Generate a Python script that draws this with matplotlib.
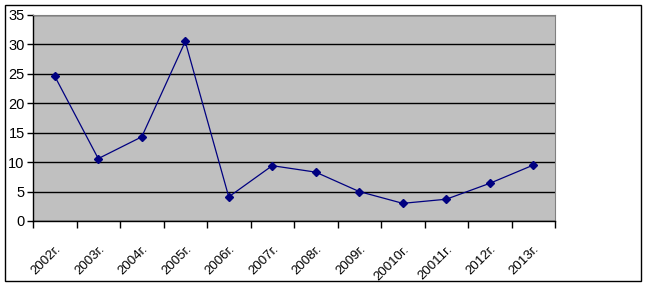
import matplotlib
matplotlib.use("Agg")
import matplotlib.pyplot as plt
from matplotlib.patches import Rectangle
import numpy as np

categories = ["2002г.", "2003г.", "2004г.", "2005г.", "2006г.", "2007г.", "2008г.",
              "2009г.", "20010г.", "20011г.", "2012г.", "2013г."]
values = [24.6, 10.6, 14.3, 30.5, 4.1, 9.4, 8.3, 5.0, 3.0, 3.7, 6.4, 9.5]
y_ticks = [0, 5, 10, 15, 20, 25, 30, 35]

plt.rcParams['font.family'] = ['Liberation Sans', 'DejaVu Sans']

fig = plt.figure(figsize=(6.46, 2.86), dpi=100)
fig.patch.set_facecolor("white")
fig.patches.append(Rectangle((5/646, 5/286), 636/646, 276/286, transform=fig.transFigure,
                             fill=False, edgecolor="black", linewidth=1.0))

ax = fig.add_axes([33/646, 65/286, 522/646, 206/286])
ax.set_facecolor("#C0C0C0")
n = len(categories)
x = np.arange(n) + 0.5
ax.plot(x, values, color="#000080", linewidth=0.9, marker="D", markersize=4,
        markerfacecolor="#000080", markeredgecolor="#000080", zorder=3)
ax.set_xlim(0, n)
ax.set_ylim(0, 35)
ax.set_yticks(y_ticks)
ax.yaxis.grid(True, color="black", linewidth=1.0)
ax.set_axisbelow(True)
ax.set_xticks(np.arange(n + 1))
ax.set_xticklabels([])
ax.set_xticks(x, minor=True)
ax.set_xticklabels(categories, minor=True, rotation=45, ha="right", va="top",
                   fontsize=9.5, rotation_mode="anchor")
ax.tick_params(axis="x", which="minor", length=0, pad=16)
ax.tick_params(axis="x", which="major", length=5, width=1, direction="out")
ax.tick_params(axis="y", length=4, width=1, direction="out", labelsize=10.5, pad=2)
for s in ["top", "right"]:
    ax.spines[s].set_color("#808080")
    ax.spines[s].set_linewidth(0.8)
for s in ["left", "bottom"]:
    ax.spines[s].set_color("black")
    ax.spines[s].set_linewidth(1.0)

fig.savefig("out.png", dpi=100)
